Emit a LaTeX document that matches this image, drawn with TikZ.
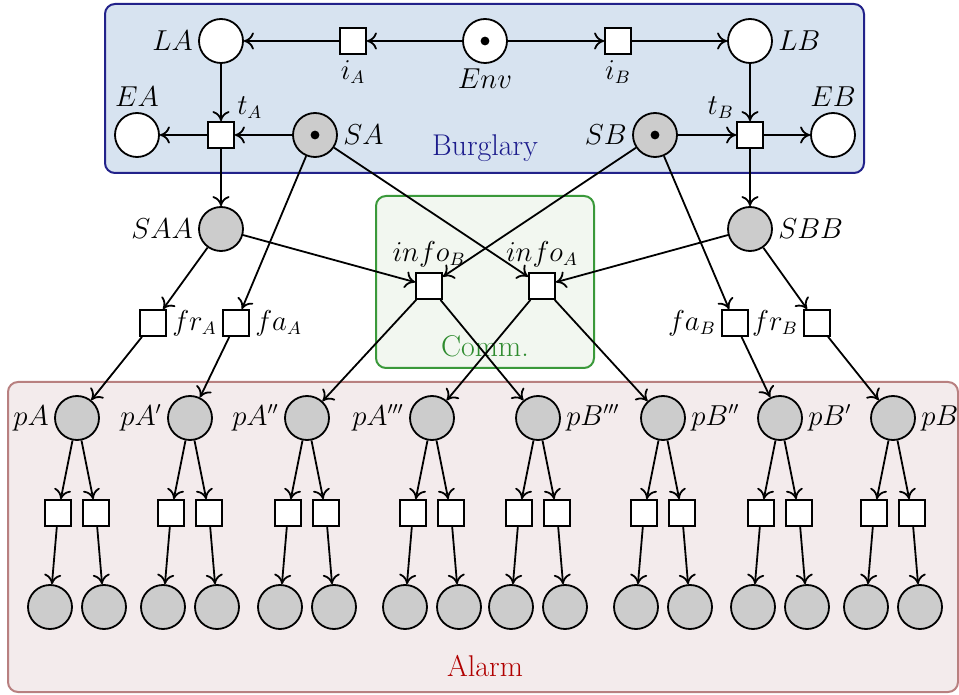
\documentclass[tikz,border=0pt]{standalone}
\usetikzlibrary{arrows.meta}
\definecolor{burgfill}{HTML}{D7E3F0}
\definecolor{burgline}{HTML}{22228A}
\definecolor{burgtext}{HTML}{1C1C8C}
\definecolor{commfill}{HTML}{F2F7F0}
\definecolor{commline}{HTML}{3A993A}
\definecolor{commtext}{HTML}{2E8B2E}
\definecolor{alarmfill}{HTML}{F3EBEC}
\definecolor{alarmline}{HTML}{B88080}
\definecolor{alarmtext}{HTML}{B00000}
\definecolor{placegray}{HTML}{CCCCCC}
\begin{document}
\begin{tikzpicture}[x=0.5pt,y=-0.5pt,
  font=\fontsize{13.5}{16}\selectfont,
  place/.style={circle,draw,line width=0.9pt,minimum size=22pt,inner sep=0pt,fill=white},
  gplace/.style={place,fill=placegray},
  trans/.style={rectangle,draw,line width=0.9pt,minimum size=13pt,inner sep=0pt,fill=white},
  arc/.style={line width=0.9pt,-{To[length=5pt,width=8.5pt]}},
  group/.style={rounded corners=5pt,line width=1pt},
  grouptitle/.style={font=\fontsize{15}{18}\selectfont},
  every label/.style={inner sep=2.5pt}
]
\useasboundingbox (0,0) rectangle (959,695);
% group boxes
\draw[group,fill=burgfill,draw=burgline] (105,4) rectangle (864,173);
\draw[group,fill=commfill,draw=commline] (376,196) rectangle (594,368);
\draw[group,fill=alarmfill,draw=alarmline] (8,382) rectangle (958,692);
\node[grouptitle,text=burgtext] (tburg) at (485,148) {Burglary};
\node[grouptitle,text=commtext] (tcomm) at (485,346) {Comm.};
\node[grouptitle,text=alarmtext] (talarm) at (485,666) {Alarm};

% Burglary
\node[place,label=left:$LA$] (LA) at (221,41) {};
\node[trans,label=below:$i_A$] (iA) at (353,41) {};
\node[place,label=below:$Env$] (Env) at (485,41) {};
\node[trans,label=below:$i_B$] (iB) at (618,41) {};
\node[place,label=right:$LB$] (LB) at (750,41) {};
\node[place,label=above:$EA$] (EA) at (137,135) {};
\node[trans,label={[inner sep=1pt]above right:$t_A$}] (tA) at (221,135) {};
\node[gplace,label=right:$SA$] (SA) at (315,135) {};
\node[gplace,label=left:$SB$] (SB) at (655,135) {};
\node[trans,label={[inner sep=1pt]above left:$t_B$}] (tB) at (750,135) {};
\node[place,label=above:$EB$] (EB) at (833,135) {};
\fill (Env) circle (2.2pt);
\fill (SA) circle (2.2pt);
\fill (SB) circle (2.2pt);

% middle
\node[gplace,label=left:$SAA$] (SAA) at (221,229) {};
\node[gplace,label=right:$SBB$] (SBB) at (750,229) {};
\node[trans,label=right:$fr_A$] (frA) at (153,323) {};
\node[trans,label=right:$fa_A$] (faA) at (236,323) {};
\node[trans,label=left:$fa_B$] (faB) at (735,323) {};
\node[trans,label=left:$fr_B$] (frB) at (817,323) {};
\node[trans,label=above:$info_B$] (infoB) at (429,286) {};
\node[trans,label=above:$info_A$] (infoA) at (542,286) {};

% alarm places
\node[gplace,label=left:$pA$] (pA) at (77,418) {};
\node[gplace,label=left:$pA'$] (pA1) at (190,418) {};
\node[gplace,label=left:$pA''$] (pA2) at (307,418) {};
\node[gplace,label=left:$pA'''$] (pA3) at (432,418) {};
\node[gplace,label=right:$pB'''$] (pB3) at (538,418) {};
\node[gplace,label=right:$pB''$] (pB2) at (663,418) {};
\node[gplace,label=right:$pB'$] (pB1) at (780,418) {};
\node[gplace,label=right:$pB$] (pB) at (893,418) {};

\foreach \p in {pA,pA1,pA2,pA3,pB3,pB2,pB1,pB}{
  \path (\p) ++(-19,95) node[trans] (\p l) {};
  \path (\p) ++(19,95) node[trans] (\p r) {};
  \path (\p) ++(-27,189) node[gplace] (\p ll) {};
  \path (\p) ++(27,189) node[gplace] (\p rr) {};
  \draw[arc] (\p) -- (\p l);
  \draw[arc] (\p) -- (\p r);
  \draw[arc] (\p l) -- (\p ll);
  \draw[arc] (\p r) -- (\p rr);
}

% arcs burglary
\draw[arc] (Env) -- (iA);
\draw[arc] (iA) -- (LA);
\draw[arc] (Env) -- (iB);
\draw[arc] (iB) -- (LB);
\draw[arc] (LA) -- (tA);
\draw[arc] (SA) -- (tA);
\draw[arc] (tA) -- (EA);
\draw[arc] (LB) -- (tB);
\draw[arc] (SB) -- (tB);
\draw[arc] (tB) -- (EB);
\draw[arc] (tA) -- (SAA);
\draw[arc] (tB) -- (SBB);

% middle arcs
\draw[arc] (SAA) -- (frA);
\draw[arc] (SA) -- (faA);
\draw[arc] (SAA) -- (infoB);
\draw[arc] (SB) -- (infoB);
\draw[arc] (SA) -- (infoA);
\draw[arc] (SBB) -- (infoA);
\draw[arc] (SB) -- (faB);
\draw[arc] (SBB) -- (frB);

% to alarm
\draw[arc] (frA) -- (pA);
\draw[arc] (faA) -- (pA1);
\draw[arc] (infoB) -- (pA2);
\draw[arc] (infoB) -- (pB3);
\draw[arc] (infoA) -- (pA3);
\draw[arc] (infoA) -- (pB2);
\draw[arc] (faB) -- (pB1);
\draw[arc] (frB) -- (pB);
\end{tikzpicture}
\end{document}
